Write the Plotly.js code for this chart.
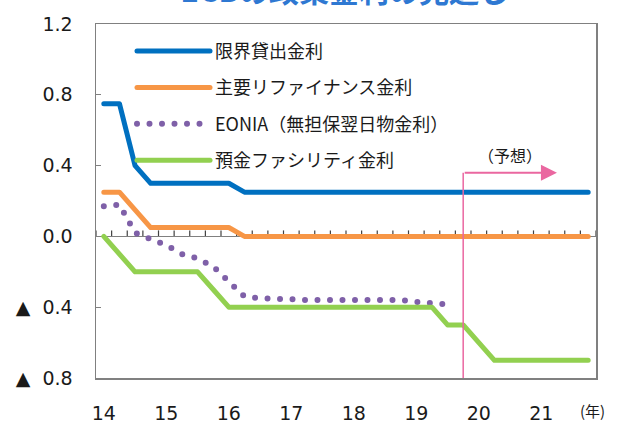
<!DOCTYPE html>
<html>
<head>
<meta charset="utf-8">
<script src="https://cdn.plot.ly/plotly-3.0.1.min.js"></script>
<style>
  html, body { margin: 0; padding: 0; background: #ffffff; }
  #chart { width: 621px; height: 423px; }
  path.js-line { stroke-linecap: round; stroke-linejoin: round; }
</style>
</head>
<body>
<div id="chart"></div>
<script>
// ---- data (quarterly, 2014Q1 .. 2021Q4) ----
const quarters = [
  '2014Q1','2014Q2','2014Q3','2014Q4','2015Q1','2015Q2','2015Q3','2015Q4',
  '2016Q1','2016Q2','2016Q3','2016Q4','2017Q1','2017Q2','2017Q3','2017Q4',
  '2018Q1','2018Q2','2018Q3','2018Q4','2019Q1','2019Q2','2019Q3','2019Q4',
  '2020Q1','2020Q2','2020Q3','2020Q4','2021Q1','2021Q2','2021Q3','2021Q4'
];
// 限界貸出金利
const marginalLending = [
  0.75, 0.75, 0.40, 0.30, 0.30, 0.30, 0.30, 0.30,
  0.30, 0.25, 0.25, 0.25, 0.25, 0.25, 0.25, 0.25,
  0.25, 0.25, 0.25, 0.25, 0.25, 0.25, 0.25, 0.25,
  0.25, 0.25, 0.25, 0.25, 0.25, 0.25, 0.25, 0.25
];
// 主要リファイナンス金利
const mainRefi = [
  0.25, 0.25, 0.15, 0.05, 0.05, 0.05, 0.05, 0.05,
  0.05, 0.00, 0.00, 0.00, 0.00, 0.00, 0.00, 0.00,
  0.00, 0.00, 0.00, 0.00, 0.00, 0.00, 0.00, 0.00,
  0.00, 0.00, 0.00, 0.00, 0.00, 0.00, 0.00, 0.00
];
// EONIA（無担保翌日物金利）
const eonia = [
  0.17, 0.18, 0.02, -0.015, -0.05, -0.10, -0.125, -0.17,
  -0.26, -0.34, -0.35, -0.35, -0.355, -0.36, -0.36, -0.355,
  -0.36, -0.36, -0.36, -0.36, -0.37, -0.375, -0.385, null,
  null, null, null, null, null, null, null, null
];
// 預金ファシリティ金利
const depositFacility = [
  0.00, -0.10, -0.20, -0.20, -0.20, -0.20, -0.20, -0.30,
  -0.40, -0.40, -0.40, -0.40, -0.40, -0.40, -0.40, -0.40,
  -0.40, -0.40, -0.40, -0.40, -0.40, -0.40, -0.50, -0.50,
  -0.60, -0.70, -0.70, -0.70, -0.70, -0.70, -0.70, -0.70
];
const seriesNames = ['限界貸出金利', '主要リファイナンス金利', 'EONIA（無担保翌日物金利）', '預金ファシリティ金利'];
const yearTickVals = ['2014Q1','2015Q1','2016Q1','2017Q1','2018Q1','2019Q1','2020Q1','2021Q1'];
const yearTickText = ['14','15','16','17','18','19','20','21'];
const yRange = [-0.8, 1.2];
const yTickVals = [-0.8, -0.4, 0, 0.4, 0.8, 1.2];
const yTickText = ['▲\u00a0\u00a00.8', '▲\u00a0\u00a00.4', '0.0', '0.4', '0.8', '1.2'];
const forecastStart = '2019Q4';
const forecastArrowEnd = '2021Q2';
const forecastLabelAt = '2020Q3';
const forecastLevel = 0.36;
const titleText = 'ECBの政策金利の見通し';
const forecastLabel = '（予想）';
const unitLabel = '(年)';

const colors = ['#0070C0', '#F79646', '#7F60A8', '#92D050'];
const seriesData = [marginalLending, mainRefi, eonia, depositFacility];

const axisGray = '#808080';
const txt = '#1a1a1a';
const fontFam = 'DejaVu Sans, Noto Sans CJK JP, sans-serif';

const traces = seriesData.map((vals, k) => ({
  type: 'scatter',
  mode: 'lines',
  x: quarters,
  y: vals,
  name: seriesNames[k],
  legendgroup: 'g' + k,
  connectgaps: false,
  hoverinfo: 'skip',
  line: {
    color: colors[k],
    width: k === 2 ? 6 : 5,
    dash: k === 2 ? '0px,12.5px' : 'solid'
  }
}));

// quarter-boundary tick marks standing on the y = 0 line (axis decoration)
const quarterTicks = [];
for (let i = 0; i <= quarters.length; i++) {
  quarterTicks.push({
    type: 'line', layer: 'below',
    xref: 'x', yref: 'y',
    x0: i - 0.5, x1: i - 0.5,
    ysizemode: 'pixel', yanchor: 0, y0: 0, y1: 6,
    line: { color: '#404040', width: 1.2 }
  });
}

const layout = {
  width: 621,
  height: 423,
  margin: { l: 96, r: 25, t: 24, b: 45 },
  paper_bgcolor: '#ffffff',
  plot_bgcolor: '#ffffff',
  font: { family: fontFam, color: txt },
  showlegend: true,
  title: {
    text: titleText,
    font: { family: 'Noto Sans CJK JP, sans-serif', size: 30, color: '#2E78D2', weight: 'bold' },
    x: 0.555, xanchor: 'center',
    y: 1 - 2 / 423, yanchor: 'bottom', yref: 'container'
  },
  legend: {
    x: 0.072, xanchor: 'left',
    y: 0.975, yanchor: 'top',
    bgcolor: 'rgba(0,0,0,0)',
    borderwidth: 0,
    traceorder: 'grouped',
    tracegroupgap: 10,
    itemwidth: 73,
    font: { family: 'Noto Sans CJK JP, DejaVu Sans, sans-serif', size: 18, color: txt }
  },
  xaxis: {
    type: 'category',
    categoryorder: 'array',
    categoryarray: quarters,
    range: [-0.5, quarters.length - 0.5],
    tickmode: 'array',
    tickvals: yearTickVals,
    ticktext: yearTickText,
    ticks: '',
    ticklabelstandoff: 18,
    tickfont: { size: 19, color: txt },
    showline: true, linecolor: axisGray, linewidth: 1.5, mirror: true,
    showgrid: false, zeroline: false, fixedrange: true
  },
  yaxis: {
    range: yRange,
    tickmode: 'array',
    tickvals: yTickVals,
    ticktext: yTickText,
    ticks: 'inside', ticklen: 5, tickwidth: 1.2, tickcolor: axisGray,
    ticklabelstandoff: 18,
    tickfont: { size: 19, color: txt },
    showline: true, linecolor: axisGray, linewidth: 1.5, mirror: true,
    showgrid: false,
    zeroline: true, zerolinecolor: axisGray, zerolinewidth: 1.5,
    fixedrange: true
  },
  shapes: quarterTicks.concat([{
    type: 'line', xref: 'x', yref: 'y',
    x0: forecastStart, x1: forecastStart, y0: yRange[0], y1: forecastLevel,
    line: { color: '#EA67A0', width: 1.5 }
  }]),
  annotations: [
    {
      xref: 'x', yref: 'y', axref: 'x', ayref: 'y',
      x: forecastArrowEnd, y: forecastLevel,
      ax: forecastStart, ay: forecastLevel,
      text: '', showarrow: true,
      arrowhead: 2, arrowsize: 1.6, arrowwidth: 2, arrowcolor: '#EA67A0'
    },
    {
      xref: 'x', yref: 'y',
      x: forecastLabelAt, y: forecastLevel + 0.1,
      text: forecastLabel, showarrow: false,
      font: { family: 'Noto Sans CJK JP, sans-serif', size: 16, color: txt },
      xanchor: 'center', yanchor: 'middle'
    },
    {
      xref: 'paper', yref: 'paper',
      x: 0.992, y: -0.093,
      text: unitLabel, showarrow: false,
      font: { family: 'Noto Sans CJK JP, sans-serif', size: 15, color: txt },
      xanchor: 'center', yanchor: 'middle'
    }
  ]
};

Plotly.newPlot('chart', traces, layout, { staticPlot: true, displayModeBar: false });
</script>
</body>
</html>
